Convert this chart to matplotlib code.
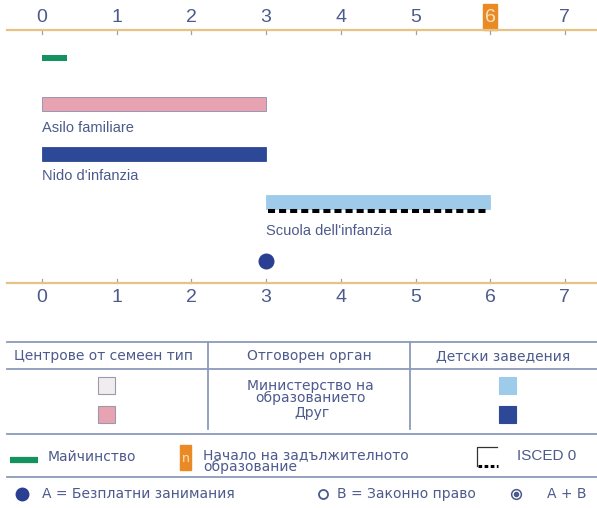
import matplotlib.pyplot as plt
from matplotlib.patches import Rectangle

# age axis (years)
ages = [0, 1, 2, 3, 4, 5, 6, 7]
compulsory_age = 6

# provision bars: start, end (years)
maternity = (0, 0.33)
bar_names = ['Asilo familiare', "Nido d'infanzia", "Scuola dell'infanzia"]
bar_start = [0, 0, 3]
bar_end = [3, 3, 6]
bar_colors = ['#e8a3b3', '#2d4896', '#9ecbea']
isced0 = (3, 6)
free_age = 3

txt_col = '#4d5a8c'
axis_col = '#e6c383'
line_col = '#8d9abb'
num_font = ['Liberation Sans Narrow', 'Liberation Sans', 'DejaVu Sans']
cyr_font = ['DejaVu Sans']

fig = plt.figure(figsize=(5.97, 5.08), dpi=100)

# timeline axes: x in years, y in pixels from top
ax = fig.add_axes([0, 0, 1, 1])
px = 74.7
ax.set_xlim(-42 / px, (597 - 42) / px)
ax.set_ylim(508, 0)
ax.axis('off')

# overlay axes for the key (pixel coordinates)
kx = fig.add_axes([0, 0, 1, 1])
kx.set_xlim(0, 597)
kx.set_ylim(508, 0)
kx.axis('off')
kx.patch.set_alpha(0)

# age axes at top and bottom
for y_ax, y_lab, tick_dir in [(30, 17, 4), (283, 297, -4)]:
    kx.plot([7, 597], [y_ax, y_ax], color=axis_col, lw=1.6, zorder=1)
    for a in ages:
        ax.plot([a, a], [y_ax, y_ax + tick_dir], color='#9aa0b0', lw=0.9, zorder=2)
        ax.text(a, y_lab, str(a), ha='center', va='center', fontsize=14,
                color=txt_col, family=num_font)

# highlight compulsory school start on the top axis
ax.add_patch(Rectangle((compulsory_age - 0.09, 4), 0.18, 26, color='#ea8a25', zorder=3))
ax.text(compulsory_age, 17, str(compulsory_age), ha='center', va='center', fontsize=14,
        color='#fbe2c0', family=num_font, zorder=4)

# maternity bar
ax.add_patch(Rectangle((maternity[0], 55), maternity[1] - maternity[0], 6,
                       color='#14925f', lw=0))

# provision bars with labels
bar_y = [97, 147, 195]
lab_y = [128, 176, 231]
for name, s, e, c, y, ly in zip(bar_names, bar_start, bar_end, bar_colors, bar_y, lab_y):
    ec = '#8a8fa8' if c == '#e8a3b3' else c
    ax.add_patch(Rectangle((s, y), e - s, 14, facecolor=c, edgecolor=ec, lw=0.6))
    ax.text(s, ly, name, ha='left', va='center', fontsize=10.5,
            color=txt_col, family=num_font)

# ISCED 0 dotted line
ax.plot([isced0[0] + 0.02, isced0[1] - 0.04], [211, 211], color='black', lw=2.9,
        linestyle=(0, (1.75, 1.0)), dash_capstyle='butt')

# free provision dot
ax.plot([free_age], [261], 'o', ms=10.5, color='#2a3f91')

# ---- key table ----
for y in [342, 369, 434, 477]:
    kx.plot([7, 597], [y, y], color=line_col, lw=1.3)
for x in [208, 410]:
    kx.plot([x, x], [342, 429], color=line_col, lw=1.3)

fs = 10
heads = ['Центрове от семеен тип', 'Отговорен орган', 'Детски заведения']
head_x = [104, 309, 503]
for h, x in zip(heads, head_x):
    kx.text(x, 356, h, ha='center', va='center', fontsize=fs, color=txt_col, family=cyr_font)

sq = 17
for x, cols in [(106, ['#f1ecef', '#e8a3b3']), (507, ['#9ecbea', '#2d4896'])]:
    for y, c in zip([377, 406], cols):
        kx.add_patch(Rectangle((x - sq / 2, y), sq, sq, facecolor=c,
                               edgecolor='#9a9aa8' if x < 300 else c, lw=0.8))

kx.text(310, 392, 'Министерство на\nобразованието', ha='center', va='center', fontsize=fs,
        color=txt_col, family=cyr_font, linespacing=0.8)
kx.text(312, 413, 'Друг', ha='center', va='center', fontsize=fs, color=txt_col, family=cyr_font)

# legend row
kx.plot([10, 38], [460, 460], color='#14925f', lw=4.5, solid_capstyle='butt')
kx.text(48, 457, 'Майчинство', ha='left', va='center', fontsize=fs, color=txt_col, family=cyr_font)
kx.add_patch(Rectangle((180, 445), 11, 25, color='#ea8a25'))
kx.text(185.5, 459, 'n', ha='center', va='center', fontsize=9, color='#fbe2c0', family=cyr_font)
kx.text(203, 461, 'Начало на задължителното\nобразование', ha='left', va='center', fontsize=fs,
        color=txt_col, family=cyr_font, linespacing=0.8)
kx.plot([477, 477, 497], [466, 447, 447], color='#333333', lw=0.9)
kx.plot([478, 498], [466, 466], color='black', lw=2.2, linestyle=(0, (1.2, 0.8)))
kx.text(517, 456, 'ISCED 0', ha='left', va='center', fontsize=11, color=txt_col, family=num_font)

# last row
kx.plot([22], [494], 'o', ms=9, color='#2a3f91')
kx.text(42, 494, 'A = Безплатни занимания', ha='left', va='center', fontsize=fs,
        color=txt_col, family=cyr_font)
kx.plot([323], [494], 'o', ms=6.5, mfc='white', mec=txt_col, mew=1.3)
kx.text(337, 494, 'B = Законно право', ha='left', va='center', fontsize=fs,
        color=txt_col, family=cyr_font)
kx.plot([516], [494], 'o', ms=7, mfc='white', mec=txt_col, mew=1.1)
kx.plot([516], [494], 'o', ms=3, color=txt_col)
kx.text(547, 494, 'A + B', ha='left', va='center', fontsize=fs, color=txt_col, family=cyr_font)

fig.savefig('out.png', dpi=100)
